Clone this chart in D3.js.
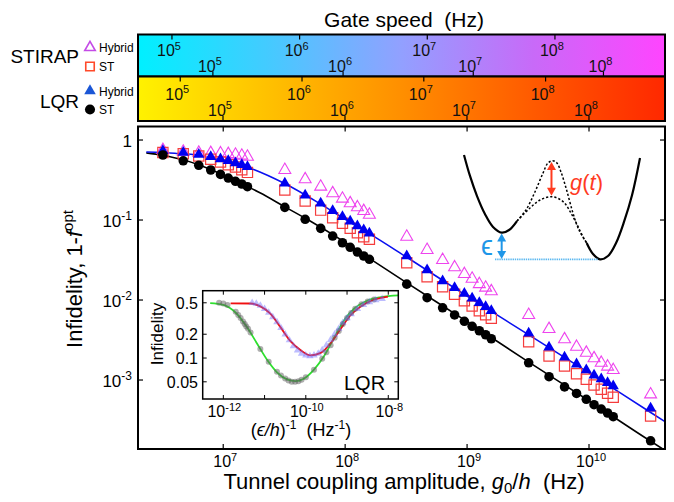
<!DOCTYPE html>
<html>
<head>
<meta charset="utf-8">
<script src="https://d3js.org/d3.v7.min.js"></script>
<style>
  body { margin: 0; background: #fff; }
  svg { display: block; font-family: "Liberation Sans", Arial, "DejaVu Sans", sans-serif; }
  text { white-space: pre; }
</style>
</head>
<body>
<div id="chart"></div>
<script>
const width = 674, height = 502;

// ---- main panel data: tunnel coupling g0/h (Hz) vs optimal infidelity ----
const g0 = [
  3.2e6, 4.7e6, 6.3e6, 7.9e6, 9.5e6, 1.1e7, 1.26e7, 1.42e7, 1.58e7,
  3.2e7, 4.7e7, 6.3e7, 7.9e7, 9.5e7, 1.1e8, 1.26e8, 1.42e8, 1.58e8,
  3.2e8, 4.7e8, 6.3e8, 7.9e8, 9.5e8, 1.1e9, 1.26e9, 1.42e9, 1.58e9,
  3.2e9, 4.7e9, 6.3e9, 7.9e9, 9.5e9, 1.1e10, 1.26e10, 1.42e10, 1.58e10,
  3.2e10];
const stirapHybrid = [
  0.75, 0.715, 0.693, 0.688, 0.682, 0.668, 0.655, 0.637, 0.618,
  0.422, 0.323, 0.261, 0.216, 0.185, 0.162, 0.144, 0.1296, 0.1164,
  0.0618, 0.0422, 0.0316, 0.0256, 0.0211, 0.01845, 0.0158, 0.01426, 0.01285,
  0.0065, 0.00434, 0.00323, 0.0026, 0.00219, 0.00187, 0.00164, 0.00147, 0.00133,
  0.00066];
const stirapST = [
  0.70, 0.675, 0.63, 0.574, 0.531, 0.49, 0.46, 0.426, 0.394,
  0.237, 0.173, 0.133, 0.107, 0.091, 0.0787, 0.0693, 0.0618, 0.0574,
  0.0292, 0.0195, 0.01466, 0.0118, 0.0098, 0.0084, 0.00735, 0.00655, 0.0059,
  0.00301, 0.002, 0.0015, 0.0012, 0.00102, 0.000866, 0.000766, 0.000682, 0.000608,
  0.000355];
const lqrHybrid = [
  0.735, 0.70, 0.66, 0.62, 0.58, 0.55, 0.516, 0.49, 0.463,
  0.288, 0.204, 0.162, 0.131, 0.11, 0.0964, 0.0841, 0.075, 0.0682,
  0.0355, 0.0237, 0.0173, 0.01425, 0.01205, 0.0105, 0.00925, 0.00824, 0.00735,
  0.00384, 0.00256, 0.00192, 0.00158, 0.00133, 0.00115, 0.00103, 0.000925, 0.00084,
  0.000443];
const lqrST = [
  0.65, 0.55, 0.483, 0.422, 0.372, 0.335, 0.305, 0.282, 0.261,
  0.144, 0.102, 0.0787, 0.063, 0.052, 0.0456, 0.0398, 0.0355, 0.0323,
  0.0158, 0.0107, 0.008, 0.0065, 0.00542, 0.00469, 0.00413, 0.00368, 0.00328,
  0.00164, 0.0011, 0.00082, 0.00068, 0.000574, 0.000491, 0.000434, 0.000387, 0.000348,
  0.000174];

// fitted curves
const hybridFitX = [2.34e6, 4.0e6, 6.3e6, 1e7, 1.58e7, 3.16e7, 6.3e7, 1e8, 1.58e8, 3.16e8, 1e9, 3.16e9, 1e10, 3.16e10, 4.2e10];
const hybridFitY = [0.708, 0.684, 0.645, 0.55, 0.457, 0.288, 0.158, 0.102, 0.0676, 0.0347, 0.0112, 0.00372, 0.00123, 0.000398, 0.000302];
const stFitX = [2.34e6, 3.16e6, 5.0e6, 7.9e6, 1.26e7, 2.0e7, 3.16e7, 5.0e7, 1e8, 1.58e8, 3.16e8, 1e9, 3.16e9, 1e10, 3.16e10, 4.2e10];
const stFitY = [0.69, 0.645, 0.55, 0.427, 0.309, 0.219, 0.148, 0.1, 0.0525, 0.0331, 0.0166, 0.00537, 0.0017, 0.00055, 0.000174, 0.000132];

const mainXTicks = [1e7, 1e8, 1e9, 1e10];
const mainYTicks = [1, 1e-1, 1e-2, 1e-3];

// ---- gate-speed colour bars: speed (Hz) reached at the left / right bar edge ----
const speedTicks = [1e5, 1e6, 1e7, 1e8];
const stirapHybridSpeed = [5.42e4, 7.28e8];
const stirapSTSpeed = [2.66e4, 2.97e8];
const lqrHybridSpeed = [4.5e4, 9.56e8];
const lqrSTSpeed = [2.01e4, 4.2e8];

// ---- inset: infidelity vs (eps/h)^-1 ----
const insetXTicks = [1e-12, 1e-11, 1e-10, 1e-9, 1e-8];
const insetXLabels = [1e-12, 1e-10, 1e-8];
const insetYTicks = [0.5, 0.2, 0.1, 0.05];
const insetSTFitX = [4.8e-13, 1.0e-12, 2.1e-12, 3.7e-12, 6.5e-12, 1.15e-11, 2.0e-11, 3.5e-11, 5.6e-11, 8.9e-11, 1.58e-10, 2.75e-10, 4.8e-10, 8.5e-10, 1.48e-9, 3.16e-9, 6.6e-9, 1.78e-8];
const insetSTFitY = [0.495, 0.47, 0.365, 0.248, 0.154, 0.095, 0.066, 0.0536, 0.051, 0.0547, 0.0714, 0.105, 0.178, 0.30, 0.42, 0.535, 0.59, 0.62];
const insetHybridFitX = [1.5e-12, 4.5e-12, 7.9e-12, 1.38e-11, 2.4e-11, 4.3e-11, 7.4e-11, 1.29e-10, 2.3e-10, 4.0e-10, 7.1e-10, 1.23e-9, 2.14e-9, 4.6e-9, 9.8e-9];
const insetHybridFitY = [0.492, 0.49, 0.45, 0.365, 0.248, 0.162, 0.126, 0.108, 0.116, 0.154, 0.237, 0.35, 0.45, 0.55, 0.6];
const insetSTPtsX = [7.9e-13, 1.0e-12, 1.26e-12, 2.0e-12, 2.3e-12, 2.63e-12, 3.0e-12, 3.3e-12, 3.6e-12, 3.98e-12, 4.57e-12, 7.9e-12, 1.26e-11, 2.0e-11, 2.5e-11, 3.16e-11, 3.8e-11, 4.57e-11, 5.5e-11, 6.6e-11, 7.9e-11, 1.0e-10, 1.58e-10, 2.5e-10, 3.16e-10, 4.0e-10, 5.0e-10, 6.3e-10, 7.9e-10, 1.0e-9, 1.26e-9, 1.58e-9, 2.24e-9, 3.16e-9, 4.5e-9];
const insetSTPtsY = [0.50, 0.49, 0.47, 0.385, 0.35, 0.32, 0.29, 0.27, 0.25, 0.235, 0.21, 0.13, 0.09, 0.067, 0.060, 0.055, 0.052, 0.050, 0.050, 0.051, 0.053, 0.057, 0.071, 0.098, 0.118, 0.145, 0.18, 0.22, 0.27, 0.32, 0.37, 0.42, 0.48, 0.52, 0.55];
const insetHybridPtsX = [5.0e-12, 6.3e-12, 7.9e-12, 1.0e-11, 1.26e-11, 1.58e-11, 2.0e-11, 2.5e-11, 3.16e-11, 4.0e-11, 5.0e-11, 6.3e-11, 7.9e-11, 1.0e-10, 1.26e-10, 1.58e-10, 2.0e-10, 2.5e-10, 3.16e-10, 4.0e-10, 5.0e-10, 6.3e-10, 7.9e-10, 1.0e-9, 1.26e-9, 1.78e-9, 2.5e-9, 3.5e-9, 5.0e-9, 7.1e-9];
const insetHybridPtsY = [0.50, 0.49, 0.46, 0.42, 0.375, 0.33, 0.285, 0.24, 0.20, 0.168, 0.142, 0.125, 0.114, 0.108, 0.106, 0.108, 0.114, 0.126, 0.145, 0.17, 0.2, 0.235, 0.28, 0.32, 0.36, 0.42, 0.47, 0.51, 0.54, 0.56];

// ---- double-well sketch, in its own unit box (0..1) ----
const wellLeft = [[0, 1.03], [0.034, 0.824], [0.074, 0.627], [0.119, 0.451], [0.165, 0.324], [0.214, 0.268], [0.256, 0.294], [0.301, 0.382]];
const barrierHigh = [[0.301, 0.382], [0.352, 0.49], [0.403, 0.667], [0.449, 0.853], [0.477, 0.951], [0.504, 0.973], [0.528, 0.951], [0.551, 0.863], [0.583, 0.686], [0.619, 0.461], [0.653, 0.294], [0.697, 0.167]];
const barrierLow = [[0.301, 0.382], [0.375, 0.51], [0.432, 0.588], [0.498, 0.621], [0.563, 0.572], [0.619, 0.425], [0.676, 0.228], [0.697, 0.167]];
const wellRight = [[0.697, 0.167], [0.733, 0.059], [0.773, 0.007], [0.818, 0.039], [0.864, 0.167], [0.909, 0.373], [0.955, 0.637], [1.0, 1.0]];

// ---------------------------------------------------------------
const svg = d3.select("#chart").append("svg")
  .attr("width", width).attr("height", height);
const defs = svg.append("defs");

function pow10(text, v, supSize) {
  const e = Math.round(Math.log10(v));
  if (e === 0) { text.append("tspan").text("1"); return; }
  text.append("tspan").text("10");
  text.append("tspan").attr("font-size", supSize).attr("dy", -supSize * 0.55).text(String(e));
}

// ---------- colour bars ----------
const barL = 138, barR = 665;
const bars = [
  { top: 34.5, bottom: 76.5, stops: ["#00f0ff", "#45caff", "#92a0ff", "#c86af8", "#ff44ff"], id: "gradStirap",
    rows: [{ range: stirapHybridSpeed, base: 56, up: true }, { range: stirapSTSpeed, base: 71.5, up: false }] },
  { top: 76.5, bottom: 121, stops: ["#fff200", "#ffc000", "#ff8f00", "#ff5a00", "#ff2800"], id: "gradLqr",
    rows: [{ range: lqrHybridSpeed, base: 99.5, up: true }, { range: lqrSTSpeed, base: 115.5, up: false }] }
];
bars.forEach((b) => {
  const grad = defs.append("linearGradient").attr("id", b.id);
  b.stops.forEach((c, i) => grad.append("stop").attr("offset", i / (b.stops.length - 1)).attr("stop-color", c));
  svg.append("rect").attr("x", barL).attr("y", b.top).attr("width", barR - barL).attr("height", b.bottom - b.top)
    .attr("fill", `url(#${b.id})`).attr("stroke", "#000").attr("stroke-width", 2);
  b.rows.forEach((r) => {
    const s = d3.scaleLog().domain(r.range).range([barL, barR]);
    speedTicks.forEach((t) => {
      svg.append("line").attr("x1", s(t)).attr("x2", s(t))
        .attr("y1", r.up ? b.top : b.bottom).attr("y2", r.up ? b.top + 5 : b.bottom - 5)
        .attr("stroke", "#000").attr("stroke-width", 1.2);
      const tx = svg.append("text").attr("x", s(t) - 3).attr("y", r.base)
        .attr("text-anchor", "middle").attr("font-size", 16).attr("fill", "#111");
      pow10(tx, t, 11);
    });
  });
});

svg.append("text").attr("x", 404).attr("y", 27).attr("text-anchor", "middle")
  .attr("font-size", 21).text("Gate speed  (Hz)");

// legend
svg.append("text").attr("x", 79).attr("y", 63).attr("text-anchor", "end").attr("font-size", 19).text("STIRAP");
svg.append("text").attr("x", 79).attr("y", 107.5).attr("text-anchor", "end").attr("font-size", 19).text("LQR");
const legendItems = [
  { y: 47.5, sym: d3.symbolTriangle, size: 48, fill: "none", stroke: "#c44be6", label: "Hybrid" },
  { y: 66.5, sym: d3.symbolSquare, size: 72, fill: "none", stroke: "#ff4a2a", label: "ST" },
  { y: 91, sym: d3.symbolTriangle, size: 58, fill: "#1a56d6", stroke: "none", label: "Hybrid" },
  { y: 109.5, sym: d3.symbolCircle, size: 80, fill: "#000", stroke: "none", label: "ST" }
];
legendItems.forEach((d) => {
  svg.append("path").attr("d", d3.symbol(d.sym, d.size)()).attr("transform", `translate(90,${d.y})`)
    .attr("fill", d.fill).attr("stroke", d.stroke).attr("stroke-width", 1.6);
  svg.append("text").attr("x", 99).attr("y", d.y + 4.5).attr("font-size", 12).text(d.label);
});

// ---------- main plot ----------
const P = { l: 138, r: 665, t: 126.5, b: 449 };
const x = d3.scaleLog().domain([2.0e6, 4.2e10]).range([P.l, P.r]);
const y = d3.scaleLog().domain([1.373e-4, 1.476]).range([P.b, P.t]);

defs.append("clipPath").attr("id", "mainClip").append("rect")
  .attr("x", P.l).attr("y", P.t).attr("width", P.r - P.l).attr("height", P.b - P.t);

const plot = svg.append("g");
const line = d3.line().x((d) => x(d[0])).y((d) => y(d[1])).curve(d3.curveMonotoneX);
plot.append("path").attr("d", line(stFitX.map((v, i) => [v, stFitY[i]])))
  .attr("fill", "none").attr("stroke", "#000").attr("stroke-width", 1.6).attr("clip-path", "url(#mainClip)");
plot.append("path").attr("d", line(hybridFitX.map((v, i) => [v, hybridFitY[i]])))
  .attr("fill", "none").attr("stroke", "#0a10f0").attr("stroke-width", 1.6).attr("clip-path", "url(#mainClip)");

function drawSeries(ys, sym, size, fill, stroke, sw) {
  plot.append("g").selectAll("path")
    .data(g0.map((v, i) => [v, ys[i]]))
    .join("path")
    .attr("transform", (d) => `translate(${x(d[0])},${y(d[1])})`)
    .attr("d", d3.symbol(sym, size))
    .attr("fill", fill).attr("stroke", stroke).attr("stroke-width", sw);
}
drawSeries(stirapHybrid, d3.symbolTriangle, 62, "none", "#ee44ee", 1.1);
drawSeries(stirapST, d3.symbolSquare, 105, "none", "#f53c3c", 1.2);
drawSeries(lqrHybrid, d3.symbolTriangle, 55, "#0000f0", "none", 0);
drawSeries(lqrST, d3.symbolCircle, 72, "#000", "none", 0);

// axes frame and ticks
const axes = svg.append("g");
mainXTicks.forEach((t) => {
  axes.append("line").attr("x1", x(t)).attr("x2", x(t)).attr("y1", P.b).attr("y2", P.b - 5).attr("stroke", "#000").attr("stroke-width", 1.2);
  axes.append("line").attr("x1", x(t)).attr("x2", x(t)).attr("y1", P.t).attr("y2", P.t + 5).attr("stroke", "#000").attr("stroke-width", 1.2);
  const tx = axes.append("text").attr("x", x(t) + 2).attr("y", 467).attr("text-anchor", "middle").attr("font-size", 16);
  pow10(tx, t, 11);
});
mainYTicks.forEach((t) => {
  axes.append("line").attr("x1", P.l).attr("x2", P.l + 5).attr("y1", y(t)).attr("y2", y(t)).attr("stroke", "#000").attr("stroke-width", 1.2);
  axes.append("line").attr("x1", P.r).attr("x2", P.r - 5).attr("y1", y(t)).attr("y2", y(t)).attr("stroke", "#000").attr("stroke-width", 1.2);
  const tx = axes.append("text").attr("x", 132).attr("y", y(t) + 7).attr("text-anchor", "end").attr("font-size", 17);
  pow10(tx, t, 12);
});
axes.append("rect").attr("x", P.l).attr("y", P.t).attr("width", P.r - P.l).attr("height", P.b - P.t)
  .attr("fill", "none").attr("stroke", "#000").attr("stroke-width", 2);

const ylab = svg.append("text").attr("transform", "translate(82,279) rotate(-90)")
  .attr("text-anchor", "middle").attr("font-size", 22);
ylab.append("tspan").text("Infidelity, 1-");
ylab.append("tspan").attr("font-style", "italic").text("f");
ylab.append("tspan").attr("font-size", 15).attr("dy", -9).text("opt");

const xlab = svg.append("text").attr("x", 404).attr("y", 489).attr("text-anchor", "middle").attr("font-size", 22);
xlab.append("tspan").text("Tunnel coupling amplitude, ");
xlab.append("tspan").attr("font-style", "italic").text("g");
xlab.append("tspan").attr("font-size", 15).attr("dy", 4).text("0");
xlab.append("tspan").attr("dy", -4).text("/");
xlab.append("tspan").attr("font-style", "italic").text("h");
xlab.append("tspan").text("  (Hz)");

// ---------- double-well sketch ----------
const dx = d3.scaleLinear().domain([0, 1]).range([464, 640]);
const dy = d3.scaleLinear().domain([0, 1]).range([260, 158]);
const wline = d3.line().x((d) => dx(d[0])).y((d) => dy(d[1])).curve(d3.curveCatmullRom);
const sketch = svg.append("g");
sketch.append("path").attr("d", wline(wellLeft)).attr("fill", "none").attr("stroke", "#000").attr("stroke-width", 2.2);
sketch.append("path").attr("d", wline(wellRight)).attr("fill", "none").attr("stroke", "#000").attr("stroke-width", 2.2);
[barrierHigh, barrierLow].forEach((pts) => {
  sketch.append("path").attr("d", wline(pts)).attr("fill", "none").attr("stroke", "#000")
    .attr("stroke-width", 1.5).attr("stroke-dasharray", "2.2,2");
});
sketch.append("line").attr("x1", dx(0.176)).attr("x2", dx(0.761)).attr("y1", dy(0.007)).attr("y2", dy(0.007))
  .attr("stroke", "#5cb8f0").attr("stroke-width", 1.8).attr("stroke-dasharray", "1.4,0.8");

function doubleArrow(xu, y0u, y1u, color) {
  const X = dx(xu), Y0 = dy(y0u), Y1 = dy(y1u);
  sketch.append("line").attr("x1", X).attr("x2", X).attr("y1", Y0 + 4).attr("y2", Y1 - 4)
    .attr("stroke", color).attr("stroke-width", 2);
  sketch.append("path").attr("d", `M${X},${Y0}L${X - 4.5},${Y0 + 8}L${X + 4.5},${Y0 + 8}Z`).attr("fill", color);
  sketch.append("path").attr("d", `M${X},${Y1}L${X - 4.5},${Y1 - 8}L${X + 4.5},${Y1 - 8}Z`).attr("fill", color);
}
doubleArrow(0.497, 0.96, 0.63, "#ff3b1f");
doubleArrow(0.214, 0.26, 0.01, "#1e96e8");

const gt = sketch.append("text").attr("x", dx(0.602)).attr("y", dy(0.69)).attr("font-size", 22).attr("fill", "#ff3b1f");
gt.append("tspan").attr("font-style", "italic").text("g");
gt.append("tspan").text("(");
gt.append("tspan").attr("font-style", "italic").text("t");
gt.append("tspan").text(")");
sketch.append("text").attr("x", dx(0.13)).attr("y", dy(0.045)).attr("text-anchor", "middle")
  .attr("font-size", 27).attr("fill", "#1e96e8").text("ϵ");

// ---------- inset ----------
const I = { l: 202.7, r: 398.3, t: 290.7, b: 399 };
const ix = d3.scaleLog().domain([3.16e-13, 1.75e-8]).range([I.l, I.r]);
const iy = d3.scaleLog().domain([0.0303, 0.711]).range([I.b, I.t]);
defs.append("clipPath").attr("id", "insetClip").append("rect")
  .attr("x", I.l).attr("y", I.t).attr("width", I.r - I.l).attr("height", I.b - I.t);

const inset = svg.append("g");
inset.append("rect").attr("x", I.l).attr("y", I.t).attr("width", I.r - I.l).attr("height", I.b - I.t).attr("fill", "#fff");
const iline = d3.line().x((d) => ix(d[0])).y((d) => iy(d[1])).curve(d3.curveMonotoneX);
const ig = inset.append("g").attr("clip-path", "url(#insetClip)");
ig.append("path").attr("d", iline(insetSTFitX.map((v, i) => [v, insetSTFitY[i]])))
  .attr("fill", "none").attr("stroke", "#2ee02e").attr("stroke-width", 1.8);
ig.append("path").attr("d", iline(insetHybridFitX.map((v, i) => [v, insetHybridFitY[i]])))
  .attr("fill", "none").attr("stroke", "#f01010").attr("stroke-width", 1.8);
ig.append("g").selectAll("circle").data(insetSTPtsX.map((v, i) => [v, insetSTPtsY[i]])).join("circle")
  .attr("cx", (d) => ix(d[0])).attr("cy", (d) => iy(d[1])).attr("r", 3)
  .attr("fill", "#5e5e5e").attr("fill-opacity", 0.5);
ig.append("g").selectAll("path").data(insetHybridPtsX.map((v, i) => [v, insetHybridPtsY[i]])).join("path")
  .attr("transform", (d) => `translate(${ix(d[0])},${iy(d[1])})`)
  .attr("d", d3.symbol(d3.symbolTriangle, 24))
  .attr("fill", "#6c6cff").attr("fill-opacity", 0.45);

insetXTicks.forEach((t) => {
  inset.append("line").attr("x1", ix(t)).attr("x2", ix(t)).attr("y1", I.b).attr("y2", I.b - 4).attr("stroke", "#000");
  inset.append("line").attr("x1", ix(t)).attr("x2", ix(t)).attr("y1", I.t).attr("y2", I.t + 4).attr("stroke", "#000");
});
insetXLabels.forEach((t) => {
  const tx = inset.append("text").attr("x", ix(t) + 1).attr("y", 417).attr("text-anchor", "middle").attr("font-size", 16);
  pow10(tx, t, 11);
});
insetYTicks.forEach((t) => {
  inset.append("line").attr("x1", I.l).attr("x2", I.l + 4).attr("y1", iy(t)).attr("y2", iy(t)).attr("stroke", "#000");
  inset.append("line").attr("x1", I.r).attr("x2", I.r - 4).attr("y1", iy(t)).attr("y2", iy(t)).attr("stroke", "#000");
  inset.append("text").attr("x", 198).attr("y", iy(t) + 6).attr("text-anchor", "end").attr("font-size", 16).text(String(t));
});
inset.append("rect").attr("x", I.l).attr("y", I.t).attr("width", I.r - I.l).attr("height", I.b - I.t)
  .attr("fill", "none").attr("stroke", "#000").attr("stroke-width", 1.5);
inset.append("text").attr("x", 344).attr("y", 390).attr("font-size", 20).text("LQR");
inset.append("text").attr("transform", "translate(163,334) rotate(-90)").attr("text-anchor", "middle")
  .attr("font-size", 17).text("Infidelity");
const ixl = inset.append("text").attr("x", 301).attr("y", 436).attr("text-anchor", "middle").attr("font-size", 18);
ixl.append("tspan").text("(");
ixl.append("tspan").attr("font-style", "italic").text("ϵ/h");
ixl.append("tspan").text(")");
ixl.append("tspan").attr("font-size", 12).attr("dy", -7).text("-1");
ixl.append("tspan").attr("dy", 7).text("  (Hz");
ixl.append("tspan").attr("font-size", 12).attr("dy", -7).text("-1");
ixl.append("tspan").attr("dy", 7).text(")");
</script>
</body>
</html>
